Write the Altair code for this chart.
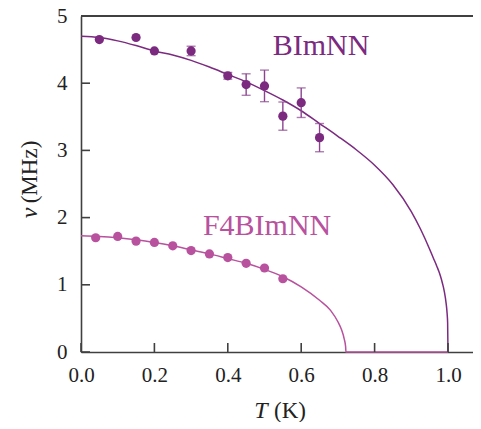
import altair as alt
import pandas as pd

# ---- data ----
bim_T = [0.05, 0.15, 0.20, 0.30, 0.40, 0.45, 0.50, 0.55, 0.60, 0.65]
bim_nu = [4.65, 4.68, 4.48, 4.48, 4.11, 3.98, 3.96, 3.51, 3.71, 3.19]
bim_err = [0.0, 0.0, 0.0, 0.07, 0.05, 0.16, 0.235, 0.21, 0.22, 0.21]

f4_T = [0.04, 0.10, 0.15, 0.20, 0.25, 0.30, 0.35, 0.40, 0.45, 0.50, 0.55]
f4_nu = [1.70, 1.72, 1.65, 1.63, 1.58, 1.51, 1.46, 1.405, 1.32, 1.25, 1.09]

bim_fit_T = [0.0, 0.05, 0.10, 0.15, 0.20, 0.25, 0.30, 0.35, 0.40, 0.45, 0.50,
             0.55, 0.60, 0.65, 0.70, 0.75, 0.80, 0.85, 0.90, 0.925, 0.95,
             0.96, 0.97, 0.975, 0.98, 0.985, 0.99, 0.995, 0.9975, 0.999, 1.0]
bim_fit_nu = [4.70, 4.68, 4.63, 4.56, 4.48, 4.42, 4.34, 4.24, 4.13, 4.02, 3.89,
              3.75, 3.59, 3.40, 3.21, 3.01, 2.78, 2.49, 2.09, 1.83, 1.53,
              1.40, 1.27, 1.20, 1.12, 1.02, 0.90, 0.72, 0.58, 0.43, 0.0]

f4_fit_T = [0.0, 0.05, 0.10, 0.15, 0.20, 0.25, 0.30, 0.35, 0.40, 0.45, 0.50,
            0.55, 0.60, 0.65, 0.68, 0.70, 0.71, 0.717, 0.721, 0.722, 1.0]
f4_fit_nu = [1.73, 1.72, 1.70, 1.67, 1.63, 1.58, 1.52, 1.46, 1.39, 1.32, 1.23,
             1.12, 0.97, 0.77, 0.62, 0.45, 0.33, 0.20, 0.08, 0.0, 0.0]

x_ticks = [0.0, 0.2, 0.4, 0.6, 0.8, 1.0]
y_ticks = [0, 1, 2, 3, 4, 5]

labels = ["BImNN", "F4BImNN"]
label_T = [0.654, 0.507]
label_nu = [4.56, 1.87]

C_BIM = "#7b2a80"
C_F4 = "#b8529e"
C_ERR = "#8c4490"
AX = "#404040"
FONT = "Liberation Serif"
W, H = 392, 336
XMAX = W / 367.0

# ---- tables ----
bim = pd.DataFrame({"T": bim_T, "nu": bim_nu, "err": bim_err})
f4 = pd.DataFrame({"T": f4_T, "nu": f4_nu})
bim_fit = pd.DataFrame({"T": bim_fit_T, "nu": bim_fit_nu})
f4_fit = pd.DataFrame({"T": f4_fit_T, "nu": f4_fit_nu})
lab = pd.DataFrame({"label": labels, "T": label_T, "nu": label_nu})
xt = pd.DataFrame({"t": x_ticks})
yt = pd.DataFrame({"t": y_ticks})

xs = alt.Scale(domain=[0, XMAX], nice=False, zero=False)
ys = alt.Scale(domain=[0, 5], nice=False)

X = alt.X("T:Q", scale=xs, title=None,
          axis=alt.Axis(values=x_ticks, format=".1f", ticks=False, grid=False,
                        labelFont=FONT, labelFontSize=21, labelColor="#222",
                        labelPadding=12, labelFlush=False, zindex=0,
                        domainColor=AX, domainWidth=1.6))
Y = alt.Y("nu:Q", scale=ys, title=None,
          axis=alt.Axis(values=y_ticks, format="d", ticks=False, grid=False,
                        labelFont=FONT, labelFontSize=21, labelColor="#222",
                        labelPadding=14, labelFlush=False, zindex=0,
                        domainColor=AX, domainWidth=1.6))

f4_line = alt.Chart(f4_fit).mark_line(color=C_F4, strokeWidth=1.5,
                                      interpolate="monotone").encode(
    x=X, y=Y, order="T:Q")
bim_line = alt.Chart(bim_fit).mark_line(color=C_BIM, strokeWidth=1.5,
                                        interpolate="monotone").encode(
    x=alt.X("T:Q", scale=xs), y=alt.Y("nu:Q", scale=ys), order="T:Q")

errbase = alt.Chart(bim).transform_filter("datum.err > 0").transform_calculate(
    lo="datum.nu - datum.err", hi="datum.nu + datum.err")
err_rule = errbase.mark_rule(color=C_ERR, strokeWidth=1.4).encode(
    x=alt.X("T:Q", scale=xs), y=alt.Y("lo:Q", scale=ys), y2="hi:Q")
cap_lo = errbase.mark_tick(color=C_ERR, orient="horizontal", size=9, thickness=1.4).encode(
    x=alt.X("T:Q", scale=xs), y=alt.Y("lo:Q", scale=ys))
cap_hi = errbase.mark_tick(color=C_ERR, orient="horizontal", size=9, thickness=1.4).encode(
    x=alt.X("T:Q", scale=xs), y=alt.Y("hi:Q", scale=ys))

bim_pts = alt.Chart(bim).mark_circle(color=C_BIM, size=85, opacity=1).encode(
    x=alt.X("T:Q", scale=xs), y=alt.Y("nu:Q", scale=ys))
f4_pts = alt.Chart(f4).mark_circle(color=C_F4, size=85, opacity=1).encode(
    x=alt.X("T:Q", scale=xs), y=alt.Y("nu:Q", scale=ys))

label_text = alt.Chart(lab).mark_text(font=FONT, fontSize=30, baseline="middle",
                                      align="center").encode(
    x=alt.X("T:Q", scale=xs), y=alt.Y("nu:Q", scale=ys), text="label:N",
    color=alt.Color("label:N", scale=alt.Scale(domain=labels, range=[C_BIM, C_F4]),
                    legend=None))

# inward ticks
xtick = alt.Chart(xt).mark_rule(color=AX, strokeWidth=1.6).encode(
    x=alt.X("t:Q", scale=xs), y=alt.value(H), y2=alt.value(H - 9))
ytick = alt.Chart(yt).mark_rule(color=AX, strokeWidth=1.6).encode(
    y=alt.Y("t:Q", scale=ys), x=alt.value(0), x2=alt.value(9))
top_border = alt.Chart(xt).mark_rule(color=AX, strokeWidth=1.6).encode(
    x=alt.value(0), x2=alt.value(W), y=alt.value(0))

# axis titles (italic symbol + upright unit)
xt_sym = alt.Chart(pd.DataFrame({"s": ["T"]})).mark_text(
    font=FONT, fontSize=24, fontStyle="italic", color="#222", baseline="middle",
    align="center").encode(text="s:N", x=alt.value(180), y=alt.value(395))
xt_unit = alt.Chart(pd.DataFrame({"s": ["(K)"]})).mark_text(
    font=FONT, fontSize=23, color="#222", baseline="middle",
    align="center").encode(text="s:N", x=alt.value(209), y=alt.value(395))
yt_sym = alt.Chart(pd.DataFrame({"s": ["ν"]})).mark_text(
    font=FONT, fontSize=24, fontStyle="italic", color="#222", baseline="middle",
    align="center", angle=270).encode(text="s:N", x=alt.value(-51), y=alt.value(197))
yt_unit = alt.Chart(pd.DataFrame({"s": ["(MHz)"]})).mark_text(
    font=FONT, fontSize=23, color="#222", baseline="middle",
    align="center", angle=270).encode(text="s:N", x=alt.value(-51), y=alt.value(156))

chart = alt.layer(
    f4_line, bim_line, err_rule, cap_lo, cap_hi, bim_pts, f4_pts, label_text,
    xtick, ytick, top_border, xt_sym, xt_unit, yt_sym, yt_unit
).properties(
    width=W, height=H,
    autosize=alt.AutoSizeParams(type="none"),
    padding={"left": 73, "top": 8, "right": 0, "bottom": 70},
    background="white",
).configure_view(stroke=None)

chart.save("out.html", embed_options={"renderer": "svg", "actions": False})
